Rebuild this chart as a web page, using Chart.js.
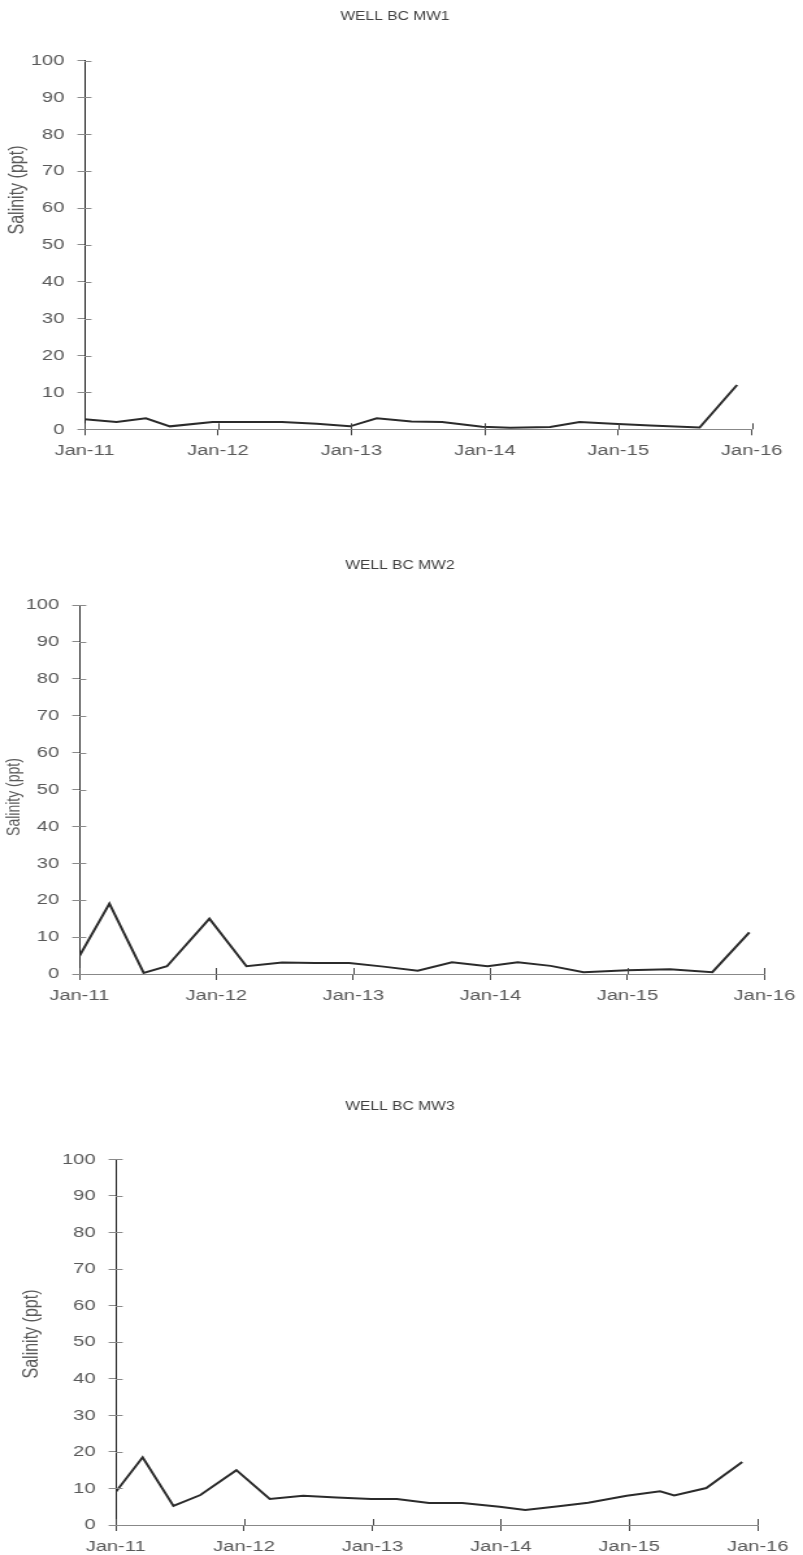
<!DOCTYPE html>
<html>
<head>
<meta charset="utf-8">
<script src="https://cdn.jsdelivr.net/npm/chart.js@4.4.1/dist/chart.umd.min.js"></script>
<style>
  body { margin: 0; background: #fff; width: 803px; height: 1555px; position: relative; overflow: hidden; }
  /* charts are drawn narrow and stretched sideways, like the original picture */
  .box { position: absolute; left: 0; width: 618px; transform: scaleX(1.29935); transform-origin: 0 0; }
</style>
</head>
<body>
<div class="box" style="top:0px;height:470px"><canvas id="mw1Chart"></canvas></div>
<div class="box" style="top:540px;height:470px"><canvas id="mw2Chart"></canvas></div>
<div class="box" style="top:1080px;height:475px"><canvas id="mw3Chart"></canvas></div>
<script>
// sample times in decimal years, salinity in ppt
const mw1Time = [2011.0, 2011.24, 2011.46, 2011.64, 2011.96, 2012.22, 2012.48, 2012.74, 2012.99, 2013.19,
                 2013.45, 2013.68, 2013.98, 2014.19, 2014.49, 2014.71, 2014.96, 2015.24, 2015.61, 2015.89];
const mw1Salinity = [2.7, 2.0, 3.0, 0.8, 2.0, 2.0, 2.0, 1.5, 0.8, 3.0,
                     2.1, 2.0, 0.7, 0.4, 0.6, 2.0, 1.5, 1.0, 0.5, 12.0];

const mw2Time = [2011.0, 2011.22, 2011.47, 2011.64, 2011.95, 2012.22, 2012.48, 2012.72, 2012.97, 2013.22,
                 2013.47, 2013.72, 2013.98, 2014.20, 2014.44, 2014.68, 2015.0, 2015.31, 2015.62, 2015.89];
const mw2Salinity = [4.8, 19.1, 0.3, 2.1, 15.0, 2.1, 3.1, 3.0, 3.0, 2.0,
                     0.9, 3.2, 2.1, 3.2, 2.2, 0.5, 1.0, 1.3, 0.5, 11.3];

const mw3Time = [2011.0, 2011.21, 2011.45, 2011.66, 2011.94, 2012.20, 2012.46, 2012.72, 2012.99, 2013.19,
                 2013.44, 2013.70, 2013.99, 2014.19, 2014.45, 2014.68, 2014.98, 2015.24, 2015.35, 2015.60, 2015.88];
const mw3Salinity = [9.0, 18.5, 5.2, 8.2, 15.0, 7.1, 8.0, 7.5, 7.1, 7.1,
                     6.0, 6.0, 5.0, 4.1, 5.1, 6.1, 8.0, 9.2, 8.1, 10.1, 17.2];

const xTickLabels = ["Jan-11", "Jan-12", "Jan-13", "Jan-14", "Jan-15", "Jan-16"];
const yTitle = "Salinity (ppt)";

Chart.defaults.font.family = 'Arial, "Liberation Sans", sans-serif';
Chart.defaults.color = "#595959";

// chart title and y axis label, placed where the original has them
const wellText = {
    id: 'wellText',
    afterDraw(chart, args, opts) {
        const ctx = chart.ctx;
        ctx.save();
        ctx.textAlign = "center";
        ctx.textBaseline = "middle";
        ctx.font = '12px Arial, "Liberation Sans", sans-serif';
        ctx.fillStyle = "#404040";
        ctx.fillText(opts.title, opts.titleX, opts.titleY);
        ctx.translate(opts.labelX, opts.labelY);
        ctx.rotate(-Math.PI / 2);
        ctx.font = opts.labelSize + 'px Arial, "Liberation Sans", sans-serif';
        ctx.fillStyle = "#595959";
        ctx.fillText(yTitle, 0, 0);
        ctx.restore();
    }
};

// tick marks cross the axes, so draw the inner half too
const innerTicks = {
    id: 'innerTicks',
    afterDatasetsDraw(chart) {
        const {ctx, chartArea, scales} = chart;
        ctx.save();
        ctx.lineWidth = 1;
        ctx.strokeStyle = "#8a8a8a";
        scales.y.ticks.forEach(t => {
            const py = Math.round(scales.y.getPixelForValue(t.value)) + 0.5;
            ctx.beginPath();
            ctx.moveTo(chartArea.left, py);
            ctx.lineTo(chartArea.left + 5.4, py);
            ctx.stroke();
        });
        ctx.strokeStyle = "#444";
        scales.x.ticks.forEach(t => {
            const px = Math.round(scales.x.getPixelForValue(t.value)) + 0.5;
            ctx.beginPath();
            ctx.moveTo(px, chartArea.bottom);
            ctx.lineTo(px, chartArea.bottom - 6);
            ctx.stroke();
        });
        ctx.restore();
    }
};

function wellChart(id, title, times, values, lay) {
    return new Chart(document.getElementById(id), {
        type: 'line',
        data: {
            datasets: [{
                label: title,
                data: times.map((t, i) => ({x: t, y: values[i]})),
                borderColor: "#2b2b2b",
                borderWidth: 2,
                pointRadius: 0,
                tension: 0,
                fill: false
            }]
        },
        options: {
            responsive: true,
            maintainAspectRatio: false,
            animation: false,
            layout: {padding: {left: 0, right: lay.padR, top: lay.padT, bottom: lay.padB}},
            plugins: {
                legend: {display: false},
                tooltip: {enabled: false},
                title: {display: false},
                wellText: {
                    title: title, titleX: lay.titleX, titleY: lay.titleY,
                    labelX: lay.labelX, labelY: lay.labelY, labelSize: lay.labelSize
                }
            },
            scales: {
                x: {
                    type: 'linear',
                    min: 2011,
                    max: 2016,
                    afterFit: s => { s.height = lay.xH; },
                    ticks: {
                        stepSize: 1,
                        padding: 6,
                        maxRotation: 0,
                        font: {size: 15.5},
                        callback: (v, i) => xTickLabels[i]
                    },
                    grid: {drawOnChartArea: false, drawTicks: true, tickLength: 6, color: "#444"},
                    border: {display: true, color: "#888", width: 1}
                },
                y: {
                    min: 0,
                    max: 100,
                    afterFit: s => { s.width = lay.yW; },
                    ticks: {stepSize: 10, padding: 10, font: {size: 15.5}},
                    grid: {drawOnChartArea: false, drawTicks: true, tickLength: 5.4, color: "#8a8a8a"},
                    border: {display: true, color: "#222", width: 1}
                }
            }
        },
        plugins: [wellText, innerTicks]
    });
}

wellChart("mw1Chart", "WELL BC MW1", mw1Time, mw1Salinity,
    {padR: 39.5, padT: 60.5, padB: 5.7, yW: 65.0, xH: 35, titleX: 304, titleY: 17, labelX: 13.9, labelY: 190, labelSize: 16});
wellChart("mw2Chart", "WELL BC MW2", mw2Time, mw2Salinity,
    {padR: 26.9, padT: 65, padB: 1, yW: 61.0, xH: 35, titleX: 307.8, titleY: 26, labelX: 10.8, labelY: 257, labelSize: 14});
wellChart("mw3Chart", "WELL BC MW3", mw3Time, mw3Salinity,
    {padR: 34.9, padT: 79.3, padB: 0, yW: 89.0, xH: 30, titleX: 307.8, titleY: 27, labelX: 24.6, labelY: 254, labelSize: 16});
</script>
</body>
</html>
